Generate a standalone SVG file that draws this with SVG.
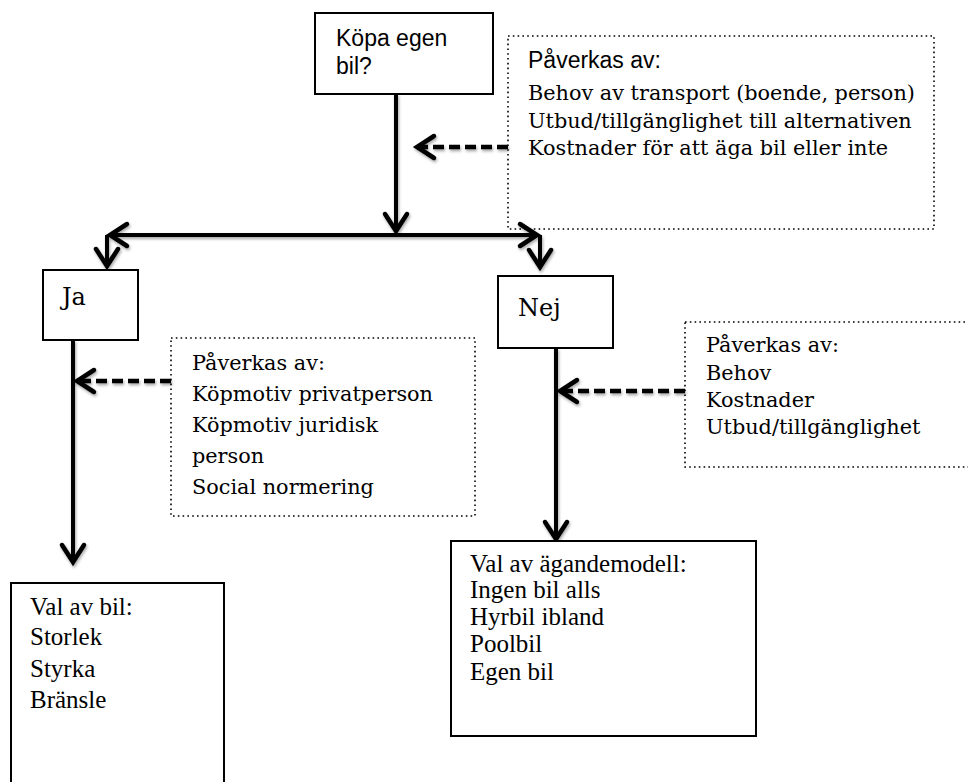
<svg xmlns="http://www.w3.org/2000/svg" width="968" height="782" viewBox="0 0 968 782">
<style>
.box{fill:#fff;stroke:#000;stroke-width:2}
.dot{fill:#fff;stroke:#000;stroke-width:1.6;stroke-dasharray:1.6 3.2}
.ln{fill:none;stroke:#000;stroke-width:4;marker-end:url(#arr)}
.dash{fill:none;stroke:#000;stroke-width:4.5;stroke-dasharray:11 5;marker-end:url(#arr)}
.sans{font-family:"Liberation Sans",Arial,sans-serif;font-size:23px;fill:#000}
.ser{font-family:"DejaVu Serif",Georgia,serif;font-size:20.8px;fill:#000}
.big{font-family:"DejaVu Serif",Georgia,serif;font-size:24px;fill:#000}
.tms{font-family:"Liberation Serif","Times New Roman",serif;font-size:25px;fill:#000}
</style>
<defs>
<marker id="arr" markerUnits="userSpaceOnUse" markerWidth="40" markerHeight="40" viewBox="-25 -20 40 40" refX="0" refY="0" orient="auto">
<path d="M-17,-11 L0,0 L-17,11" fill="none" stroke="#000" stroke-width="4.5" stroke-linecap="round" stroke-linejoin="miter"/>
</marker>
<filter id="sh" x="-10%" y="-10%" width="130%" height="130%">
<feDropShadow dx="1" dy="2" stdDeviation="1.5" flood-color="#000" flood-opacity="0.35"/>
</filter>
</defs>
<rect width="968" height="782" fill="#fff"/>

<g id="influence-top">
<rect class="dot" x="508" y="36" width="426" height="193"/>
<text class="sans" x="528" y="68">Påverkas av:</text>
<text class="ser" x="528" y="100">Behov av transport (boende, person)</text>
<text class="ser" x="528" y="128">Utbud/tillgänglighet till alternativen</text>
<text class="ser" x="528" y="155">Kostnader för att äga bil eller inte</text>
</g>

<g id="influence-ja">
<rect class="dot" x="171" y="338" width="304" height="178"/>
<text class="ser" x="192" y="370">Påverkas av:</text>
<text class="ser" x="192" y="401">Köpmotiv privatperson</text>
<text class="ser" x="192" y="432">Köpmotiv juridisk</text>
<text class="ser" x="192" y="463">person</text>
<text class="ser" x="192" y="494">Social normering</text>
</g>

<g id="influence-nej">
<rect class="dot" x="685" y="322" width="300" height="145"/>
<text class="ser" x="706" y="352">Påverkas av:</text>
<text class="ser" x="706" y="380">Behov</text>
<text class="ser" x="706" y="407">Kostnader</text>
<text class="ser" x="706" y="434">Utbud/tillgänglighet</text>
</g>

<g id="connectors" filter="url(#sh)">
<path class="ln" d="M396,94 L396,231"/>
<path class="ln" d="M396,235 L110,235"/>
<path class="ln" d="M396,235 L537,235"/>
<path class="ln" d="M107,235 L107,266"/>
<path class="ln" d="M540,235 L540,267"/>
<path class="ln" d="M73,340 L73,562"/>
<path class="ln" d="M556,348 L556,539"/>
<path class="dash" d="M508,147 L417,147"/>
<path class="dash" d="M171,381 L77,381"/>
<path class="dash" d="M685,391 L560,391"/>
</g>

<g id="question">
<rect class="box" x="315" y="13" width="178" height="81"/>
<text class="sans" x="336" y="46">Köpa egen</text>
<text class="sans" x="336" y="74">bil?</text>
</g>

<g id="ja">
<rect class="box" x="43" y="270" width="95" height="70"/>
<text class="big" x="62" y="305">Ja</text>
</g>

<g id="nej">
<rect class="box" x="498" y="276" width="115" height="72"/>
<text class="big" x="518" y="316">Nej</text>
</g>

<g id="val-bil">
<rect class="box" x="11" y="583" width="213" height="215"/>
<text class="tms" x="30" y="615">Val av bil:</text>
<text class="tms" x="30" y="645">Storlek</text>
<text class="tms" x="30" y="677">Styrka</text>
<text class="tms" x="30" y="708">Bränsle</text>
</g>

<g id="val-agande">
<rect class="box" x="451" y="541" width="305" height="195"/>
<text class="tms" x="470" y="572">Val av ägandemodell:</text>
<text class="tms" x="470" y="598">Ingen bil alls</text>
<text class="tms" x="470" y="625">Hyrbil ibland</text>
<text class="tms" x="470" y="652">Poolbil</text>
<text class="tms" x="470" y="680">Egen bil</text>
</g>
</svg>
